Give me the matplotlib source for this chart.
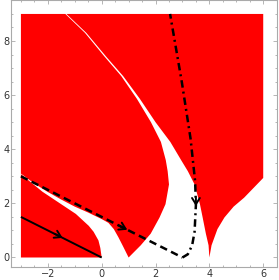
import matplotlib
matplotlib.use("Agg")
import matplotlib.pyplot as plt
import numpy as np

# ---- data ----
# Region A (lower-left): upper boundary from (0,0) to (-3,3.08)
A_top_x = [0.0, -0.05, -0.12, -0.3, -0.48, -0.96, -1.58, -2.2, -3.0]
A_top_y = [0.0, 0.35, 0.63, 0.95, 1.17, 1.61, 2.02, 2.43, 3.08]

# Region B: lower boundary from (-3,3.1) to (1,0)
B_low_x = [-3.0, -2.5, -2.0, -1.5, -1.0, -0.5, 0.0, 0.25, 0.45, 0.62, 0.8, 1.0]
B_low_y = [3.1, 2.73, 2.42, 2.14, 1.88, 1.66, 1.42, 1.28, 1.05, 0.75, 0.4, 0.0]

# White band between region B (right edge) and region C (left edge)
band_y = [9.0, 8.3, 7.43, 6.7, 5.86, 5.0, 4.27, 3.6, 3.19, 2.7, 1.97, 1.48, 0.88, 0.45, 0.0]
B_right_x = [-1.35, -0.62, 0.10, 0.73, 1.31, 1.83, 2.20, 2.38, 2.45, 2.5, 2.37, 2.15, 1.82, 1.45, 1.0]
C_left_x = [-1.31, -0.57, 0.16, 0.80, 1.42, 2.0, 2.55, 2.95, 3.2, 3.45, 3.65, 3.75, 3.87, 3.97, 4.0]

# Region C: lower-right boundary from (4,0) to (6,2.94)
C_right_x = [4.0, 4.08, 4.3, 4.56, 4.9, 5.29, 5.65, 6.0]
C_right_y = [0.0, 0.45, 1.05, 1.48, 1.88, 2.21, 2.58, 2.94]

x_min, x_max, y_min, y_max = -3.0, 6.0, 0.0, 9.0

# Trajectories
solid_x = [-3.0, 0.0]
solid_y = [1.5, 0.0]
dashed_x = [-3.0, 3.0]
dashed_y = [3.0, 0.0]
dashdot_x = [3.0, 3.2, 3.36, 3.45, 3.5, 3.47, 3.3, 2.98, 2.54]
dashdot_y = [0.0, 0.12, 0.45, 0.95, 1.95, 2.82, 4.4, 6.46, 9.0]

xticks = [-2, 0, 2, 4, 6]
yticks = [0, 2, 4, 6, 8]

# ---- figure ----
fig = plt.figure(figsize=(2.79, 2.80), dpi=100)
ax = fig.add_axes([0.0412, 0.0475, 0.9505, 0.951])
red = "#ff0000"

# Region A
ax.fill([x_min] + A_top_x, [y_min] + A_top_y, color=red, lw=0)

# Region B
bx = [x_min, x_min] + B_right_x + B_low_x[::-1][1:]
by = [B_low_y[0], y_max] + band_y + B_low_y[::-1][1:]
ax.fill(bx, by, color=red, lw=0)

# Region C
cx = [x_max, x_max] + C_right_x[::-1] + C_left_x[::-1]
cy = [y_max, C_right_y[-1]] + C_right_y[::-1] + band_y[::-1]
ax.fill(cx, cy, color=red, lw=0)

# Trajectories
ax.plot(solid_x, solid_y, color="k", lw=1.4, solid_capstyle="butt")
ax.plot(dashed_x, dashed_y, color="k", lw=1.8, dashes=(3.0, 1.8))
ax.plot(dashdot_x, dashdot_y, color="k", lw=1.8, dashes=(3.0, 1.6, 0.8, 1.6))


def head(x1, y1, dx, dy):
    ax.annotate("", xy=(x1, y1), xytext=(x1 - dx, y1 - dy),
                arrowprops=dict(arrowstyle="->,head_length=0.45,head_width=0.28",
                                color="k", lw=1.4, shrinkA=0, shrinkB=0))


# arrowheads along trajectories
head(-1.45, 0.725, 0.3, -0.15)
head(0.95, 1.025, 0.3, -0.15)
head(3.5, 1.9, 0.0, -0.3)

ax.set_xlim(-3.35, 6.33)
ax.set_ylim(-0.34, 9.37)
ax.set_xticks(xticks)
ax.set_yticks(yticks)
ax.set_xticks(np.arange(-3, 6.51, 0.5), minor=True)
ax.set_yticks(np.arange(0, 9.51, 0.5), minor=True)
for s in ax.spines.values():
    s.set_color("#aaaaaa")
    s.set_linewidth(0.8)
ax.tick_params(which="both", direction="in", top=True, right=True,
               color="#aaaaaa", width=0.6, labelsize=7, labelcolor="#333333", pad=1.5)
ax.tick_params(which="major", length=3)
ax.tick_params(which="minor", length=1.5)

fig.savefig("out.png", dpi=100)
